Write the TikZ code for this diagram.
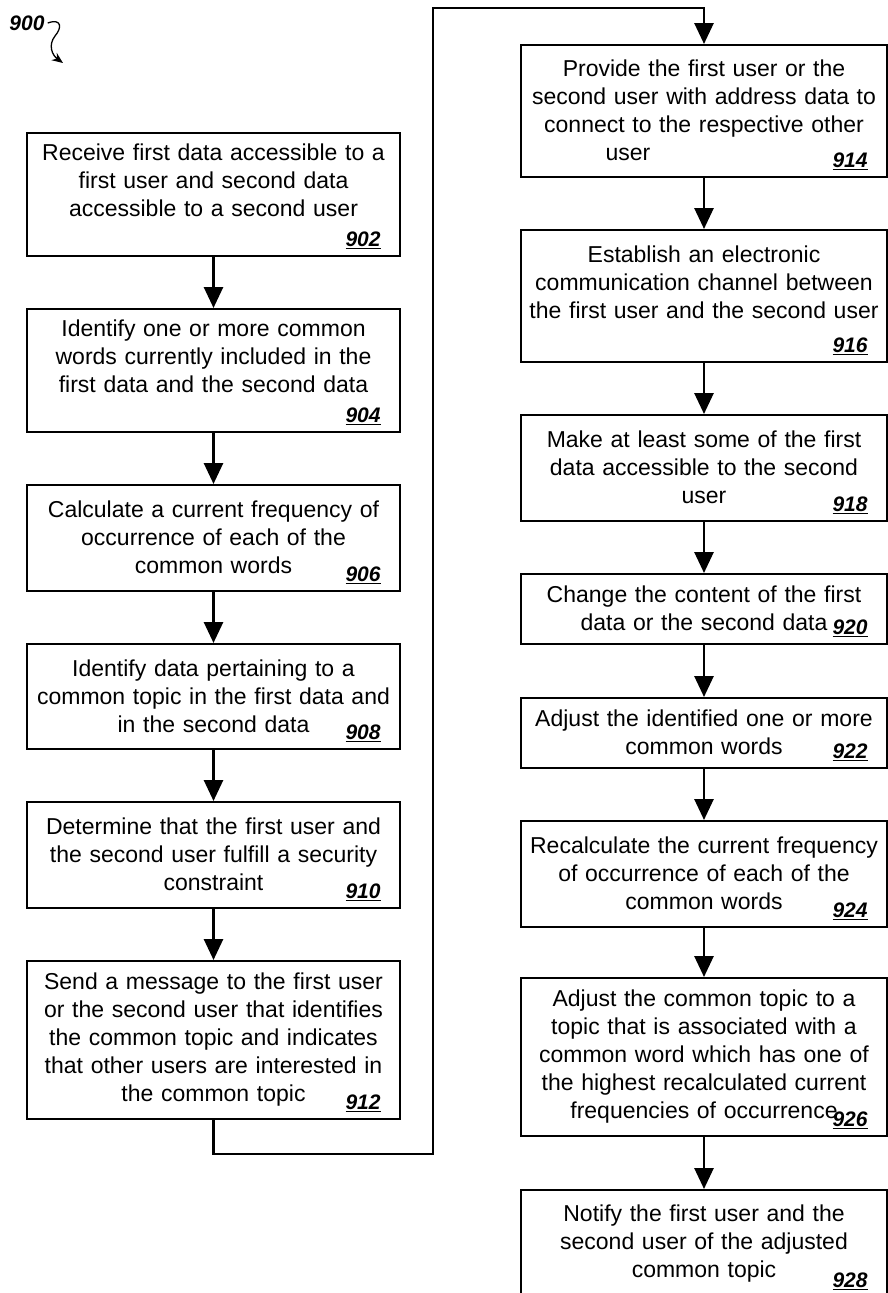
\documentclass[tikz,border=0pt]{standalone}
\usepackage{fontspec}
\setmainfont{Liberation Sans}
\usetikzlibrary{arrows.meta}
\newcommand\bxfont{\fontsize{23}{28}\selectfont}
\newcommand\nmfont{\fontsize{21}{24}\selectfont\bfseries\itshape}
\begin{document}
\begin{tikzpicture}[x=1pt,y=-1pt,
  box/.style={draw, line width=1.5pt, anchor=north, align=center, font=\bxfont, inner xsep=6pt, inner ysep=4pt},
  lbox/.style={box, text width=361pt},
  rbox/.style={box, text width=354pt},
  num/.style={anchor=base east, font=\nmfont, inner sep=0pt},
  conn/.style={line width=2.8pt},
  arr/.style={conn, -{Triangle[width=19pt,length=21pt]}}]
\useasboundingbox (0,0) rectangle (888,1293);
% label
\node[font=\fontsize{21}{24}\selectfont\bfseries\itshape, inner sep=0pt] (l900) at (27,23) {900};
\coordinate (t900) at (63,63);
\draw[line width=1.3pt, -{Stealth[length=11pt,width=9pt]}] ([xshift=3pt]l900.east) .. controls (62,18) and (62,28) .. (55,36) .. controls (48,45) and (52,55) .. (t900);
% left column
\node[lbox, minimum height=123pt] (b902) at (213.5,132) {Receive first data accessible to a\\first user and second data\\accessible to a second user\\\mbox{}};
\node[lbox, minimum height=123pt] (b904) at (213.5,308) {Identify one or more common\\words currently included in the\\first data and the second data\\\mbox{}};
\node[lbox, minimum height=106pt] (b906) at (213.5,484) {Calculate a current frequency of\\occurrence of each of the\\common words};
\node[lbox, minimum height=105pt] (b908) at (213.5,643) {Identify data pertaining to a\\common topic in the first data and\\in the second data};
\node[lbox, minimum height=106pt] (b910) at (213.5,801) {Determine that the first user and\\the second user fulfill a security\\constraint};
\node[lbox, minimum height=158pt] (b912) at (213.5,960) {Send a message to the first user\\or the second user that identifies\\the common topic and indicates\\that other users are interested in\\the common topic};
% right column
\node[rbox, minimum height=132pt] (b914) at (704,44) {Provide the first user or the\\second user with address data to\\connect to the respective other\\user\hspace*{152pt}\mbox{}};
\node[rbox, minimum height=132pt] (b916) at (704,229) {Establish an electronic\\communication channel between\\the first user and the second user\\\mbox{}};
\node[rbox, minimum height=106pt] (b918) at (704,414) {Make at least some of the first\\data accessible to the second\\user};
\node[rbox, minimum height=70pt] (b920) at (704,573) {Change the content of the first\\data or the second data};
\node[rbox, minimum height=70pt] (b922) at (704,697) {Adjust the identified one or more\\common words};
\node[rbox, minimum height=106pt] (b924) at (704,820) {Recalculate the current frequency\\of occurrence of each of the\\common words};
\node[rbox, minimum height=158pt] (b926) at (704,977) {Adjust the common topic to a\\topic that is associated with a\\common word which has one of\\the highest recalculated current\\frequencies of occurrence};
\node[rbox, minimum height=107pt] (b928) at (704,1189) {Notify the first user and the\\second user of the adjusted\\common topic};
% numbers
\foreach \b in {902,904,906,908,910,912,914,916,918,920,922,924,926,928}
  \node[num] (n\b) at ([xshift=-20pt,yshift=10pt]b\b.south east) {\underline{\b}};
% arrows
\draw[arr] (b902) -- (b904);
\draw[arr] (b904) -- (b906);
\draw[arr] (b906) -- (b908);
\draw[arr] (b908) -- (b910);
\draw[arr] (b910) -- (b912);
\coordinate (c1) at (433,1154);
\coordinate (c2) at (433,8);
\draw[arr] (b912.south) |- (c1) -- (c2) -| (b914.north);
\draw[arr] (b914) -- (b916);
\draw[arr] (b916) -- (b918);
\draw[arr] (b918) -- (b920);
\draw[arr] (b920) -- (b922);
\draw[arr] (b922) -- (b924);
\draw[arr] (b924) -- (b926);
\draw[arr] (b926) -- (b928);
\end{tikzpicture}
\end{document}
